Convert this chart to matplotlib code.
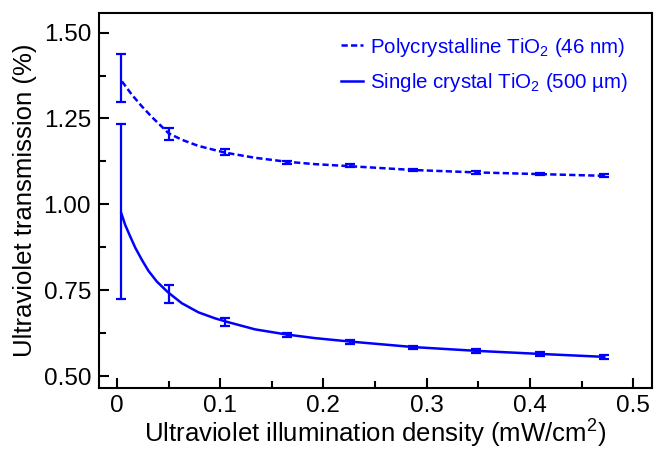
import numpy as np
import matplotlib
matplotlib.use('Agg')
import matplotlib.pyplot as plt
from matplotlib.ticker import MultipleLocator, FixedLocator

plt.rcParams['font.family'] = ['Liberation Sans', 'DejaVu Sans']
plt.rcParams['mathtext.fontset'] = 'custom'
plt.rcParams['mathtext.rm'] = 'Liberation Sans'
plt.rcParams['mathtext.it'] = 'Liberation Sans:italic'

# measured points (illumination density in mW/cm2, transmission in %)
density = [0.004, 0.050, 0.105, 0.165, 0.226, 0.287, 0.348, 0.410, 0.472]
poly_val = [1.367, 1.204, 1.152, 1.121, 1.112, 1.100, 1.093, 1.088, 1.083]
poly_err = [0.070, 0.017, 0.009, 0.005, 0.004, 0.004, 0.004, 0.004, 0.004]
single_val = [0.978, 0.739, 0.658, 0.619, 0.599, 0.583, 0.573, 0.564, 0.556]
single_err = [0.255, 0.026, 0.012, 0.006, 0.005, 0.005, 0.005, 0.005, 0.005]

# fitted curves
poly_fit_x = [0.0048, 0.0145, 0.0242, 0.0339, 0.050, 0.0629, 0.079, 0.1048,
              0.1338, 0.1645, 0.1919, 0.226, 0.287, 0.348, 0.410, 0.472]
poly_fit_y = [1.358, 1.319, 1.285, 1.254, 1.207, 1.188, 1.170, 1.1505,
              1.1355, 1.124, 1.117, 1.111, 1.100, 1.093, 1.088, 1.083]
single_fit_x = [0.0042, 0.0080, 0.0129, 0.0177, 0.0242, 0.0306, 0.0387,
                0.0494, 0.0629, 0.079, 0.0951, 0.1065, 0.1338, 0.1645,
                0.1919, 0.226, 0.287, 0.348, 0.410, 0.472]
single_fit_y = [0.974, 0.940, 0.906, 0.874, 0.838, 0.806, 0.775, 0.744,
                0.712, 0.6855, 0.668, 0.658, 0.636, 0.621, 0.6105, 0.6005,
                0.5845, 0.5735, 0.5645, 0.556]

blue = '#0000ff'

fig = plt.figure(figsize=(6.54, 4.53), dpi=100)
ax = fig.add_axes([0.152, 0.144, 0.8445, 0.8265])

ax.plot(poly_fit_x, poly_fit_y, color=blue, lw=1.8, dashes=[2.5, 1.3],
        label=r'Polycrystalline TiO$_2$ (46 nm)')
ax.plot(single_fit_x, single_fit_y, color=blue, lw=1.8,
        label=r'Single crystal TiO$_2$ (500 µm)')

ax.errorbar(density, poly_val, yerr=poly_err, fmt='none', ecolor=blue,
            elinewidth=1.6, capsize=3.6, capthick=1.6)
ax.errorbar(density, single_val, yerr=single_err, fmt='none', ecolor=blue,
            elinewidth=1.6, capsize=3.6, capthick=1.6)

ax.set_xlim(-0.017, 0.518)
ax.set_ylim(0.466, 1.556)
ax.xaxis.set_major_locator(FixedLocator([0, 0.1, 0.2, 0.3, 0.4, 0.5]))
ax.set_xticklabels(['0', '0.1', '0.2', '0.3', '0.4', '0.5'])
ax.xaxis.set_minor_locator(MultipleLocator(0.05))
ax.yaxis.set_major_locator(MultipleLocator(0.25))
ax.yaxis.set_minor_locator(MultipleLocator(0.125))
ax.yaxis.set_major_formatter(plt.FormatStrFormatter('%.2f'))

ax.tick_params(which='both', direction='in', top=False, right=False,
               width=1.5, labelsize=17.5)
ax.tick_params(which='major', length=7.5)
ax.tick_params(which='minor', length=5)
ax.tick_params(axis='y', pad=6)
ax.tick_params(axis='x', pad=5)
for s in ax.spines.values():
    s.set_linewidth(1.5)

ax.set_xlabel(r'Ultraviolet illumination density (mW/cm$^2$)', fontsize=18.5,
              labelpad=1)
ax.set_ylabel('Ultraviolet transmission (%)', fontsize=18.5, labelpad=5)

leg = ax.legend(loc='upper right', frameon=False, fontsize=14.8,
                handlelength=1.1, handletextpad=0.3, labelspacing=0.6,
                bbox_to_anchor=(0.99, 0.99))
for t in leg.get_texts():
    t.set_color(blue)

fig.savefig('out.png', dpi=100)
